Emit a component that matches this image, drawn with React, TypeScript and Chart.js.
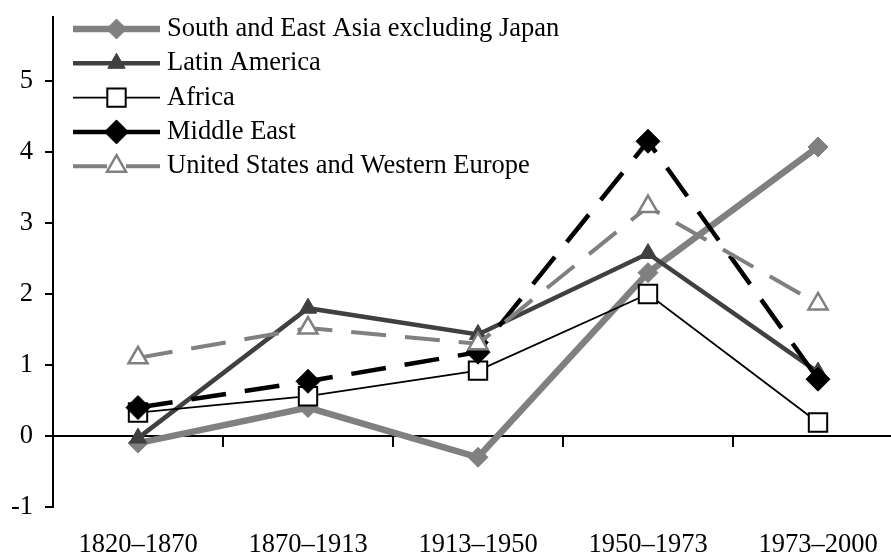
import React, { useEffect, useRef } from 'react';
import { Chart, registerables } from 'chart.js';
import { drawPoint } from 'chart.js/helpers';

Chart.register(...registerables);

const categories = ['1820–1870', '1870–1913', '1913–1950', '1950–1973', '1973–2000'];
const seriesNames = [
  'South and East Asia excluding Japan',
  'Latin America',
  'Africa',
  'Middle East',
  'United States and Western Europe',
];
const southEastAsia = [-0.1, 0.4, -0.3, 2.3, 4.07];
const latinAmerica = [-0.03, 1.8, 1.43, 2.57, 0.9];
const africa = [0.33, 0.56, 0.92, 2.0, 0.19];
const middleEast = [0.4, 0.77, 1.18, 4.15, 0.8];
const usWesternEurope = [1.1, 1.52, 1.3, 3.23, 1.86];
const yMin = -1;
const yMax = 5.9;
const yStep = 1;

const FONT = '"Liberation Serif", "Times New Roman", serif';
const FONT_SIZE = 26.5;
const GREY = '#808080';
const DARK = '#404040';

const zeroPad = (s: any) => { s.paddingLeft = 0; s.paddingRight = 0; s.paddingTop = 0; s.paddingBottom = 0; };

const lineLegend = {
  id: 'lineLegend',
  afterDraw(chart: any) {
    const { ctx, chartArea } = chart;
    ctx.save();
    chart.data.datasets.forEach((ds: any, i: number) => {
      const y = chartArea.top + 12 + i * 34.3;
      const x0 = chartArea.left + 20;
      const x1 = chartArea.left + 107;
      const xm = (x0 + x1) / 2;
      ctx.strokeStyle = ds.borderColor;
      ctx.lineWidth = ds.borderWidth;
      ctx.lineCap = 'butt';
      ctx.setLineDash(ds.borderDash && ds.borderDash.length ? [34, 19] : []);
      ctx.beginPath();
      ctx.moveTo(x0, y);
      ctx.lineTo(x1, y);
      ctx.stroke();
      ctx.setLineDash([]);
      ctx.fillStyle = ds.pointBackgroundColor;
      ctx.strokeStyle = ds.pointBorderColor;
      ctx.lineWidth = ds.pointBorderWidth;
      drawPoint(ctx, { pointStyle: ds.pointStyle, radius: ds.pointRadius, rotation: 0, borderWidth: ds.pointBorderWidth }, xm, y);
      ctx.fillStyle = '#000';
      ctx.font = FONT_SIZE + 'px ' + FONT;
      ctx.textBaseline = 'middle';
      ctx.textAlign = 'left';
      ctx.fillText(ds.label, chartArea.left + 114, y);
    });
    ctx.restore();
  },
};

export default function App() {
  const ref = useRef<HTMLCanvasElement>(null);
  useEffect(() => {
    const chart = new Chart(ref.current as HTMLCanvasElement, {
      type: 'line',
      data: {
        labels: categories,
        datasets: [
          {
            label: seriesNames[0], data: southEastAsia, order: 5,
            borderColor: GREY, borderWidth: 6.5, pointStyle: 'rectRot', pointRadius: 10,
            pointBackgroundColor: GREY, pointBorderColor: GREY, pointBorderWidth: 1,
          },
          {
            label: seriesNames[1], data: latinAmerica, order: 4,
            borderColor: DARK, borderWidth: 4.5, pointStyle: 'triangle', pointRadius: 10,
            pointBackgroundColor: DARK, pointBorderColor: DARK, pointBorderWidth: 1,
          },
          {
            label: seriesNames[2], data: africa, order: 3,
            borderColor: '#000', borderWidth: 1.8, pointStyle: 'rect', pointRadius: 13,
            pointBackgroundColor: '#fff', pointBorderColor: '#000', pointBorderWidth: 2,
          },
          {
            label: seriesNames[3], data: middleEast, order: 2,
            borderColor: '#000', borderWidth: 4.5, borderDash: [35, 19], pointStyle: 'rectRot', pointRadius: 12,
            pointBackgroundColor: '#000', pointBorderColor: '#000', pointBorderWidth: 1,
          },
          {
            label: seriesNames[4], data: usWesternEurope, order: 1,
            borderColor: GREY, borderWidth: 4, borderDash: [35, 19], pointStyle: 'triangle', pointRadius: 11,
            pointBackgroundColor: '#fff', pointBorderColor: GREY, pointBorderWidth: 2.5,
          },
        ],
      },
      options: {
        responsive: false,
        maintainAspectRatio: false,
        animation: false,
        layout: { padding: { top: 17, left: 0, right: 0, bottom: 0 } },
        plugins: { legend: { display: false }, tooltip: { enabled: false } },
        elements: { line: { tension: 0, fill: false } },
        scales: {
          x: {
            type: 'category',
            position: { y: 0 } as any,
            offset: true,
            afterFit: zeroPad,
            border: { display: true, color: '#000', width: 2 },
            grid: { offset: true, drawOnChartArea: false, drawTicks: true, tickLength: 10, color: '#000', lineWidth: 2 },
            ticks: { display: false },
          },
          xLabels: {
            type: 'category',
            axis: 'x',
            position: 'bottom',
            labels: categories,
            offset: true,
            afterFit: (s: any) => { zeroPad(s); s.height = 48; },
            border: { display: false },
            grid: { display: false, drawTicks: false },
            ticks: { padding: 22, color: '#000', font: { family: FONT, size: FONT_SIZE }, maxRotation: 0, autoSkip: false },
          } as any,
          y: {
            min: yMin,
            max: yMax,
            afterFit: (s: any) => { zeroPad(s); s.width = 53; },
            border: { display: true, color: '#000', width: 2 },
            grid: { drawOnChartArea: false, drawTicks: true, tickLength: 8, color: '#000', lineWidth: 2 },
            ticks: { stepSize: yStep, includeBounds: false, padding: 12, color: '#000', font: { family: FONT, size: FONT_SIZE } },
          },
        },
      },
      plugins: [lineLegend],
    } as any);
    return () => chart.destroy();
  }, []);
  return (
    <div style={{ position: 'fixed', left: 0, top: 0, width: 891, height: 555, overflow: 'hidden', background: '#fff' }}>
      <canvas ref={ref} width={918} height={555} style={{ display: 'block', width: 918, height: 555 }} />
    </div>
  );
}
